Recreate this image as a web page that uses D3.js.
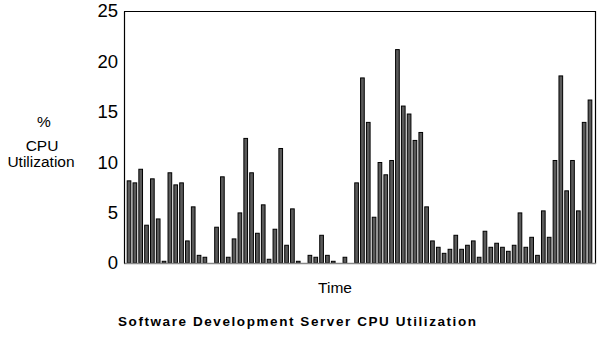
<!DOCTYPE html>
<html>
<head>
<meta charset="utf-8">
<script src="https://cdn.jsdelivr.net/npm/d3@7"></script>
<style>
  html, body { margin: 0; padding: 0; background: #fff; }
  svg { display: block; font-family: "Liberation Sans", Arial, Helvetica, sans-serif; }
</style>
</head>
<body>
<svg id="chart" width="613" height="353"></svg>
<script>
// ---- data ----
const cpuValues = [
  8.15, 7.95, 9.3, 3.75, 8.35, 4.37, 0.17, 8.95, 7.75, 7.95,
  2.19, 5.57, 0.76, 0.57, 0, 3.55, 8.55, 0.57, 2.39, 4.97,
  12.36, 8.95, 2.95, 5.77, 0.37, 3.35, 11.36, 1.76, 5.37, 0.17,
  0, 0.76, 0.57, 2.75, 0.76, 0.17, 0, 0.57, 0, 7.95,
  18.36, 13.95, 4.54, 9.97, 8.75, 10.17, 21.17, 15.57, 14.78, 12.16,
  12.95, 5.57, 2.19, 1.56, 0.96, 1.36, 2.75, 1.36, 1.76, 2.19,
  0.57, 3.15, 1.56, 1.96, 1.56, 1.16, 1.76, 4.97, 1.56, 2.55,
  0.76, 5.17, 2.55, 10.17, 18.56, 7.16, 10.17, 5.17, 13.95, 16.17
];
const timeSlots = cpuValues.map((_, i) => i + 1);
const yTicks = [0, 5, 10, 15, 20, 25];
const yLabelLines = ["%", "CPU", "Utilization"];
const xLabel = "Time";
const title = "Software Development Server CPU Utilization";

// ---- layout ----
const svg = d3.select("#chart");
const mLeft = 124, mRight = 595, mTop = 11, mBottom = 263;

const x = d3.scaleBand().domain(timeSlots).range([mLeft, mRight])
  .paddingInner(0.37).paddingOuter(0.545);
const y = d3.scaleLinear().domain([0, 25]).range([mBottom, mTop]);

// bars
svg.append("g").selectAll("rect").data(cpuValues.map((v, i) => ({t: timeSlots[i], v})))
  .join("rect")
  .filter(d => d.v > 0)
  .attr("x", d => x(d.t))
  .attr("width", x.bandwidth())
  .attr("y", d => y(d.v))
  .attr("height", d => y(0) - y(d.v))
  .attr("fill", "#5a5a5a")
  .attr("stroke", "#000")
  .attr("stroke-width", 1);

// frame
svg.append("line").attr("x1", mLeft).attr("x2", mRight).attr("y1", mTop + 0.5).attr("y2", mTop + 0.5)
  .attr("stroke", "#000").attr("stroke-width", 1.2);
svg.append("line").attr("x1", mRight + 0.5).attr("x2", mRight + 0.5).attr("y1", mTop).attr("y2", mBottom + 1)
  .attr("stroke", "#000").attr("stroke-width", 1.2);
svg.append("line").attr("x1", mLeft).attr("x2", mRight + 1).attr("y1", mBottom + 0.5).attr("y2", mBottom + 0.5)
  .attr("stroke", "#888").attr("stroke-width", 1.5);

// y axis
const yAxis = d3.axisLeft(y).tickValues(yTicks).tickSize(0).tickPadding(6);
const gy = svg.append("g").attr("transform", `translate(${mLeft},0)`).call(yAxis);
gy.select(".domain").attr("stroke", "#000").attr("stroke-width", 1.2);
gy.selectAll("text").attr("font-size", 18.5).attr("fill", "#000")
  .attr("font-family", "'Liberation Sans', Arial, sans-serif");

// y label
const yl = [{t: yLabelLines[0], x: 44, y: 127}, {t: yLabelLines[1], x: 42, y: 151}, {t: yLabelLines[2], x: 41, y: 167}];
svg.append("g").selectAll("text").data(yl).join("text")
  .attr("x", d => d.x).attr("y", d => d.y)
  .attr("text-anchor", "middle").attr("font-size", 15.5).attr("fill", "#000")
  .text(d => d.t);

// x label
svg.append("text").attr("x", 335).attr("y", 293).attr("text-anchor", "middle")
  .attr("font-size", 15.5).attr("fill", "#000").text(xLabel);

// title
svg.append("text").attr("x", 118).attr("y", 326)
  .attr("font-size", 13.5).attr("font-weight", "bold").attr("fill", "#000")
  .attr("textLength", 358).attr("lengthAdjust", "spacing")
  .text(title);
</script>
</body>
</html>
